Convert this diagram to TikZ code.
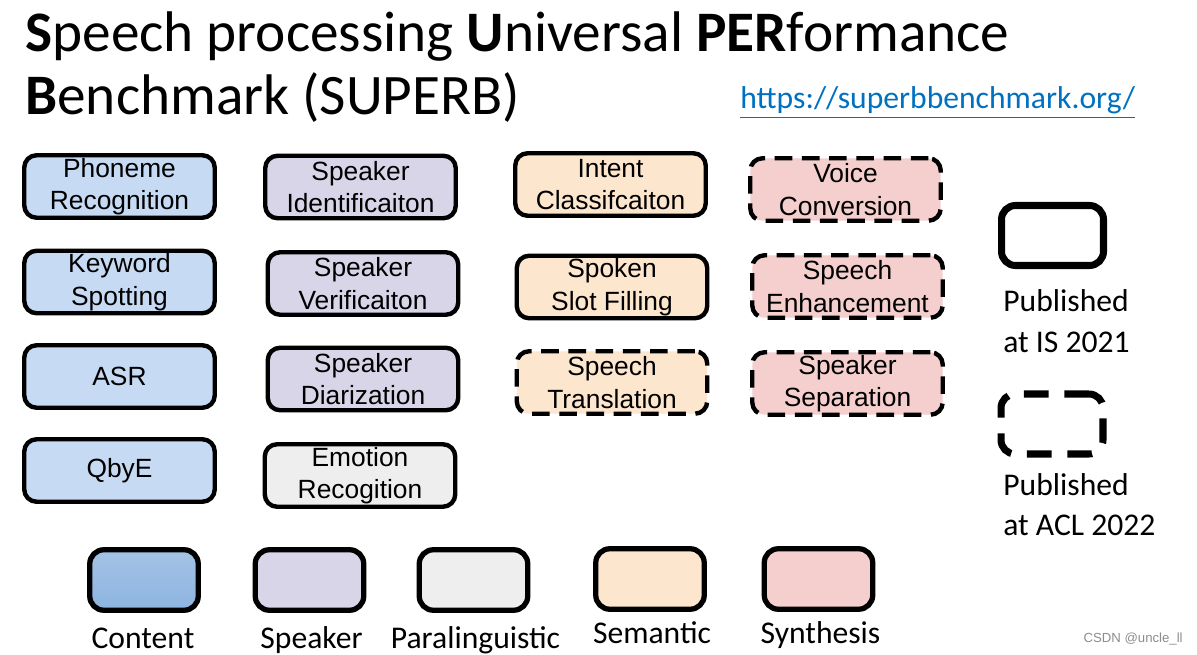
\documentclass[tikz,border=0pt]{standalone}
\usepackage{fontspec}
\setmainfont{Carlito}
\newfontfamily\boxfont{Liberation Sans}
\usepackage{tikz}
\usepackage{xcolor}

\begin{document}
\begin{tikzpicture}[x=0.02cm,y=-0.02cm,
  task/.style={draw,line width=2.5pt,rounded corners=7pt,minimum width=3.81cm,
    minimum height=1.25cm,align=center,inner sep=0pt,
    font=\boxfont\fontsize{15}{18.5}\selectfont},
  acl/.style={dash pattern=on 10pt off 5.5pt},
  keybox/.style={draw,line width=3pt,rounded corners=8pt,minimum width=2.17cm,
    minimum height=1.21cm,inner sep=0pt},
  keytext/.style={anchor=base,inner sep=0pt,font=\fontsize{18}{22}\selectfont},
  pubtext/.style={anchor=base west,inner sep=0pt,font=\fontsize{18}{22}\selectfont}]
\definecolor{contentc}{HTML}{C6DBF3}
\definecolor{contenttop}{HTML}{A4C2E6}
\definecolor{contentbot}{HTML}{8DB5E0}
\definecolor{speakerc}{HTML}{D9D5E8}
\definecolor{paralc}{HTML}{EEEEEE}
\definecolor{semanticc}{HTML}{FCE6CE}
\definecolor{synthc}{HTML}{F5CECE}
\definecolor{urlblue}{HTML}{0070C0}
\useasboundingbox (0,0) rectangle (1197,655);
% title
\node[anchor=base west,inner sep=0pt,font=\fontsize{32.6}{36}\selectfont] (title1) at (25,52)
  {\textbf{S}peech processing \textbf{U}niversal \textbf{PER}formance};
\node[anchor=base west,inner sep=0pt,font=\fontsize{32.6}{36}\selectfont] (title2) at (25,115)
  {\textbf{B}enchmark (SUPERB)};
\node[anchor=base west,inner sep=0pt,text=urlblue,font=\fontsize{18}{22}\selectfont] (url) at (740,109)
  {\underline{https://superbbenchmark.org/}};
% content
\node[task,fill=contentc] (phoneme) at (119.5,186.5) {Phoneme\\Recognition};
\node[task,fill=contentc] (keyword) at (119.5,282) {Keyword\\Spotting};
\node[task,fill=contentc] (asr) at (119.5,376.5) {ASR};
\node[task,fill=contentc] (qbye) at (119.5,470.5) {QbyE};
% speaker
\node[task,fill=speakerc] (spkid) at (360.5,187) {Speaker\\Identificaiton};
\node[task,fill=speakerc] (spkver) at (363,283.5) {Speaker\\Verificaiton};
\node[task,fill=speakerc] (spkdiar) at (363,379) {Speaker\\Diarization};
% paralinguistic
\node[task,fill=paralc] (emotion) at (360,475.5) {Emotion\\Recogition};
% semantic
\node[task,fill=semanticc] (intent) at (610.5,184.5) {Intent\\Classifcaiton};
\node[task,fill=semanticc] (slot) at (612,287) {Spoken\\Slot Filling};
\node[task,fill=semanticc,acl] (st) at (612,382.5) {Speech\\Translation};
% synthesis
\node[task,fill=synthc,acl] (vc) at (845.5,189.5) {Voice\\Conversion};
\node[task,fill=synthc,acl] (se) at (847.5,286.5) {Speech\\Enhancement};
\node[task,fill=synthc,acl] (ss) at (847.5,383.5) {Speaker\\Separation};
% published at
\node[keybox,line width=4pt,minimum width=2.04cm,minimum height=1.2cm] (is21) at (1052.5,235.5) {};
\node[pubtext] (is21a) at (1003,312) {Published};
\node[pubtext] (is21b) at (1003,352) {at IS 2021};
\node[keybox,line width=4pt,minimum width=2.04cm,minimum height=1.2cm,
  dash pattern=on 14pt off 9pt] (acl22) at (1052,424) {};
\node[pubtext] (acl22a) at (1003,495) {Published};
\node[pubtext] (acl22b) at (1003,535) {at ACL 2022};
% categories
\node[keybox,top color=contenttop,bottom color=contentbot] (kcontent) at (144,580) {};
\node[keytext] (lcontent) at (143,648) {Content};
\foreach \crlr/\nm/\txt/\px/\py/\ty in {speakerc/kspeaker/Speaker/309.5/580/648,
    paralc/kparal/Paralinguistic/473.5/580/648,
    semanticc/ksemantic/Semantic/650/579/643,synthc/ksynth/Synthesis/818.5/579/643}
  { \node[keybox,fill=\crlr] (\nm) at (\px,\py) {};
    \node[keytext] (\nm-label) at (\px+2,\ty) {\txt}; }
\node[anchor=base east,inner sep=0pt,text=black!45,font=\boxfont\fontsize{7.5}{9}\selectfont] (mark) at (1183,642) {CSDN @uncle\_ll};
\end{tikzpicture}
\end{document}
